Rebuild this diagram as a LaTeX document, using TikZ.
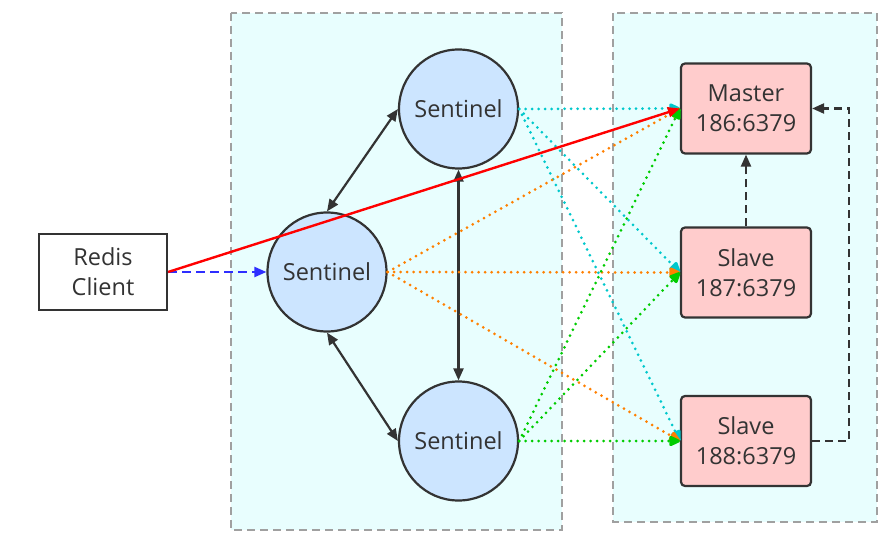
\documentclass[tikz,border=0pt]{standalone}
\usepackage{fontspec}
\setmainfont{Open Sans}
\usetikzlibrary{arrows.meta}
\definecolor{boxfill}{HTML}{E8FEFE}
\definecolor{boxline}{HTML}{A0A0A0}
\definecolor{sentfill}{HTML}{CCE5FF}
\definecolor{srvfill}{HTML}{FFCCCC}
\definecolor{ink}{HTML}{333333}
\definecolor{cy}{HTML}{00C8CC}
\definecolor{org}{HTML}{FF8000}
\definecolor{grn}{HTML}{00CC00}
\definecolor{rd}{HTML}{FF0000}
\definecolor{bl}{HTML}{2E2EFF}
\tikzset{
  container/.style={draw=boxline, fill=boxfill, line width=2pt, dash pattern=on 8pt off 5pt},
  lbl/.style={text=ink, font=\fontsize{23.5}{30}\selectfont, align=center, inner sep=0pt},
  sent/.style={lbl, circle, draw=ink, fill=sentfill, line width=2.2pt, minimum size=119pt},
  srv/.style={lbl, rectangle, rounded corners=4pt, draw=ink, fill=srvfill, line width=2.2pt, minimum width=130pt, minimum height=90pt},
  client/.style={lbl, rectangle, draw=ink, fill=white, line width=2.2pt, minimum width=128pt, minimum height=76pt},
  tip/.style={-{Triangle[length=12pt,width=10pt]}},
  dtip/.style={{Triangle[length=12pt,width=10pt]}-{Triangle[length=12pt,width=10pt]}},
  dots/.style={line width=3pt, line cap=round, dash pattern=on 0pt off 6.5pt, -{Triangle[length=13pt,width=11pt,round=false]}},
  link/.style={draw=ink, line width=2.2pt},
}
\begin{document}
\begin{tikzpicture}[x=1pt,y=-1pt]
\useasboundingbox (0,0) rectangle (890,537);
\fill[white] (0,0) rectangle (890,537);
\draw[container] (231,13) rectangle (562,530);
\draw[container] (613,13) rectangle (877,522);

\node[sent] (s1) at (458.5,109) {Sentinel};
\node[sent] (s2) at (327,272) {Sentinel};
\node[sent] (s3) at (458.5,441) {Sentinel};
\node[client] (c) at (103,272) {Redis\\Client};
\node[srv] (m) at (746,108.5) {Master\\186:6379};
\node[srv] (sa) at (746,272.5) {Slave\\187:6379};
\node[srv] (sb) at (746,441) {Slave\\188:6379};

% sentinel links
\draw[link, dtip] (s1.west) -- (s2.north);
\draw[link, dtip] (s2.south) -- (s3.west);
\draw[link, dtip] (s1.south) -- (s3.north);

% monitoring
\draw[cy, dots] (s1.east) -- (m.west);
\draw[cy, dots] (s1.east) -- (sa.west);
\draw[cy, dots] (s1.east) -- (sb.west);
\draw[org, dots] (s2.east) -- (m.west);
\draw[org, dots] (s2.east) -- (sa.west);
\draw[org, dots] (s2.east) -- (sb.west);
\draw[grn, dots] (s3.east) -- (m.west);
\draw[grn, dots] (s3.east) -- (sa.west);
\draw[grn, dots] (s3.east) -- (sb.west);

% replication
\draw[link, tip, dash pattern=on 8pt off 5pt] (sa.north) -- (m.south);
\draw[link, tip, dash pattern=on 8pt off 5pt] (sb.east) -- ++(37,0) |- (m.east);

% client
\draw[bl, line width=2.2pt, dash pattern=on 9pt off 5pt, tip] (c.east) -- (s2.west);
\draw[rd, line width=2.4pt, tip] (c.east) -- (m.west);
\end{tikzpicture}
\end{document}
